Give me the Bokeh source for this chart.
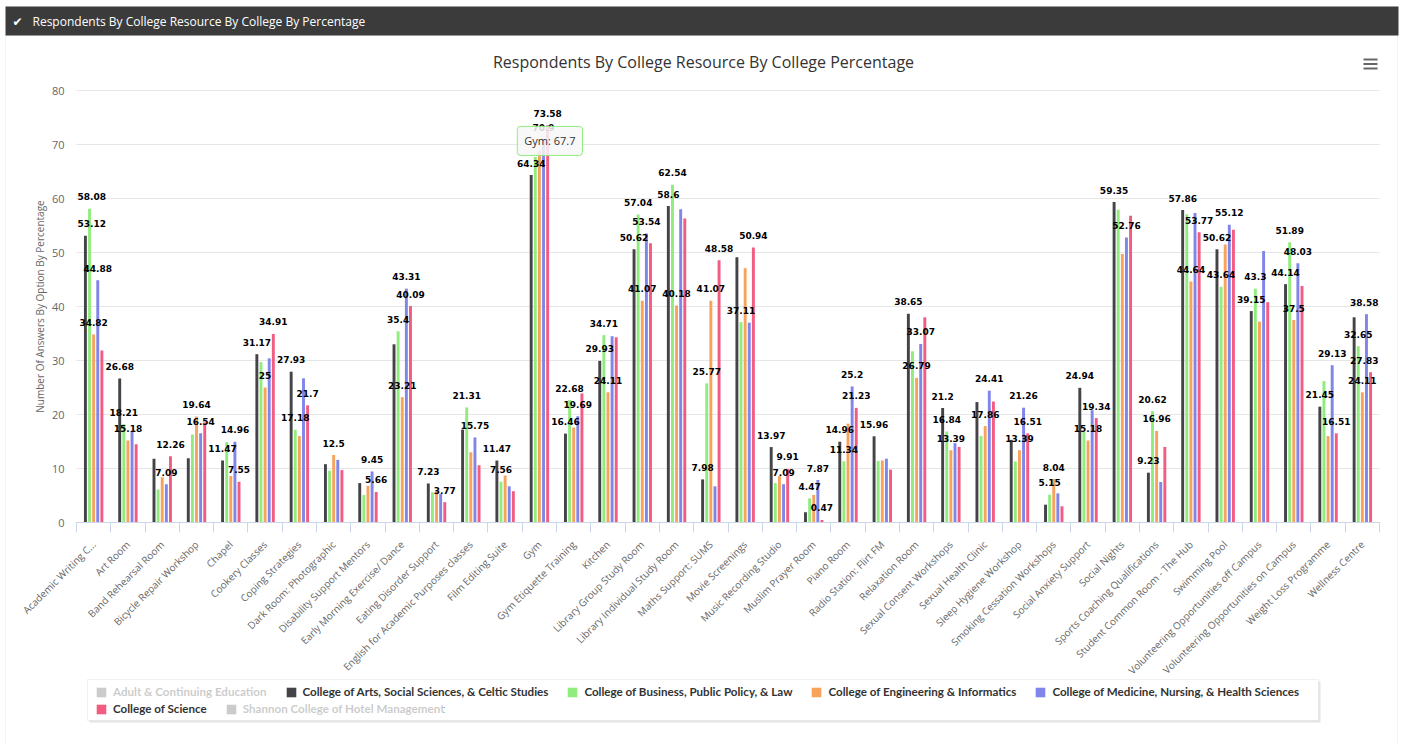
import numpy as np
from bokeh.plotting import figure
from bokeh.models import (ColumnDataSource, Range1d, FixedTicker, Legend, LegendItem,
                          Label, BoxAnnotation)
from bokeh.core.properties import value
from bokeh.embed import file_html
from bokeh.resources import INLINE

# ---------------------------------------------------------------- data
categories = [
    "Academic Writing C...", "Art Room", "Band Rehearsal Room", "Bicycle Repair Workshop",
    "Chapel", "Cookery Classes", "Coping Strategies", "Dark Room: Photographic",
    "Disability Support Mentors", "Early Morning Exercise/ Dance", "Eating Disorder Support",
    "English for Academic Purposes classes", "Film Editing Suite", "Gym",
    "Gym Etiquette Training", "Kitchen", "Library Group Study Room",
    "Library Individual Study Room", "Maths Support: SUMS", "Movie Screenings",
    "Music Recording Studio", "Muslim Prayer Room", "Piano Room", "Radio Station: Flirt FM",
    "Relaxation Room", "Sexual Consent Workshops", "Sexual Health Clinic",
    "Sleep Hygiene Workshop", "Smoking Cessation Workshops", "Social Anxiety Support",
    "Social Nights", "Sports Coaching Qualifications", "Student Common Room - The Hub",
    "Swimming Pool", "Volunteering Opportunities off Campus",
    "Volunteering Opportunities on Campus", "Weight Loss Programme", "Wellness Centre",
]

arts = [53.12, 26.68, 11.8, 11.9, 11.47, 31.17, 27.93, 10.8, 7.3, 33.0, 7.23, 17.2, 11.47,
        64.34, 16.46, 29.93, 50.62, 58.6, 7.98, 49.1, 13.97, 1.9, 14.96, 15.96, 38.65, 21.2,
        22.3, 15.3, 3.3, 24.94, 59.35, 9.23, 57.86, 50.62, 39.15, 44.14, 21.45, 38.0]
business = [58.08, 18.21, 6.1, 16.3, 14.9, 29.7, 17.18, 9.6, 5.1, 35.4, 5.6, 21.31, 7.56,
            67.7, 22.68, 34.71, 57.04, 62.54, 25.77, 37.11, 7.3, 4.47, 11.34, 11.4, 31.7,
            16.84, 16.0, 11.3, 5.15, 16.8, 57.9, 20.62, 57.1, 43.64, 43.3, 51.89, 26.2, 32.65]
engineering = [34.82, 15.18, 8.4, 19.64, 8.6, 25, 16.0, 12.5, 6.8, 23.21, 5.8, 13.0, 8.7,
               68.9, 17.6, 24.11, 41.07, 40.18, 41.07, 47.1, 8.6, 5.1, 18.3, 11.5, 26.79,
               13.39, 17.86, 13.39, 8.04, 15.18, 49.7, 16.96, 44.64, 51.5, 37.2, 37.5, 16.0,
               24.11]
medicine = [44.88, 16.9, 7.09, 16.54, 14.96, 30.4, 26.7, 11.6, 9.45, 43.31, 5.3, 15.75, 6.7,
            70.9, 19.69, 34.5, 53.54, 58.0, 6.7, 37.0, 7.09, 7.87, 25.2, 11.81, 33.07, 14.7,
            24.41, 21.26, 5.4, 20.8, 52.76, 7.5, 57.3, 55.12, 50.3, 48.03, 29.13, 38.58]
science = [31.85, 14.5, 12.26, 18.5, 7.55, 34.91, 21.7, 9.7, 5.66, 40.09, 3.77, 10.6, 5.8,
           73.58, 23.9, 34.3, 51.7, 56.3, 48.58, 50.94, 9.91, 0.47, 21.23, 9.8, 38.0, 14.0,
           22.4, 16.51, 3.0, 19.34, 56.8, 14.0, 53.77, 54.2, 40.8, 43.8, 16.51, 27.83]

# indices of the categories whose value label is printed, per college
arts_labelled = [0, 1, 4, 5, 6, 10, 12, 13, 14, 15, 16, 17, 18, 20, 22, 23, 24, 25, 29, 30,
                 31, 32, 33, 34, 35, 36]
business_labelled = [0, 1, 6, 9, 11, 12, 14, 15, 16, 17, 18, 19, 21, 22, 25, 28, 31, 33, 34,
                     35, 37]
engineering_labelled = [0, 1, 3, 5, 7, 9, 15, 16, 17, 18, 24, 25, 26, 27, 28, 29, 31, 32, 35,
                        37]
medicine_labelled = [0, 2, 3, 4, 8, 9, 11, 13, 14, 16, 20, 21, 22, 24, 26, 27, 30, 33, 35, 36,
                     37]
science_labelled = [2, 4, 5, 6, 8, 9, 10, 13, 18, 19, 20, 21, 22, 27, 29, 32, 36, 37]

series_names = [
    "College of Arts, Social Sciences, & Celtic Studies",
    "College of Business, Public Policy, & Law",
    "College of Engineering & Informatics",
    "College of Medicine, Nursing, & Health Sciences",
    "College of Science",
]
hidden_names = ["Adult & Continuing Education", "Shannon College of Hotel Management"]
tooltip_category = "Gym"
y_ticks = list(range(0, 81, 10))

# ---------------------------------------------------------------- geometry
W, H = 1404, 744
PLOT_L, PLOT_R, PLOT_T, PLOT_B = 76, 1379, 90, 522   # pixel box of the bar area
Y_MAX = 80

series_values = [arts, business, engineering, medicine, science]
series_labelled = [arts_labelled, business_labelled, engineering_labelled,
                   medicine_labelled, science_labelled]
colors = ["#434348", "#90ed7d", "#f7a35c", "#8085e9", "#f15c80"]
offsets = [-0.24, -0.12, 0.0, 0.12, 0.24]

n = len(categories)
centers = np.arange(n) + 0.5

# The frame covers the whole canvas so headers and legend are never clipped;
# the ranges are widened so that [0, n] x [0, 80] lands on the bar-area box.
px_x = (PLOT_R - PLOT_L) / n
px_y = (PLOT_B - PLOT_T) / Y_MAX
x_range = Range1d(-PLOT_L / px_x, n + (W - PLOT_R) / px_x)
y_range = Range1d(-(H - PLOT_B) / px_y, Y_MAX + PLOT_T / px_y)

p = figure(width=W, height=H, output_backend="svg", toolbar_location=None,
           x_range=x_range, y_range=y_range,
           min_border_left=0, min_border_right=0, min_border_top=0, min_border_bottom=0)
p.outline_line_color = None
p.background_fill_color = "white"
p.border_fill_color = "white"
p.xgrid.visible = False
p.ygrid.visible = False

# horizontal grid lines across the bar area
p.segment(x0=0, x1=n, y0=y_ticks, y1=y_ticks, line_color="#e6e6e6", line_width=1)

# x axis: labels under each category, ticks on category boundaries
xa = p.xaxis[0]
xa.fixed_location = 0
xa.bounds = (0, n)
xa.ticker = FixedTicker(ticks=list(centers), minor_ticks=list(range(n + 1)))
xa.major_label_overrides = {float(c): name for c, name in zip(centers, categories)}
xa.major_label_orientation = np.pi / 4
xa.major_tick_out = 0
xa.major_tick_in = 0
xa.minor_tick_out = 10
xa.minor_tick_in = 0
xa.minor_tick_line_color = "#ccd6eb"
xa.axis_line_color = "#ccd6eb"
xa.major_label_standoff = 10
xa.major_label_text_font = "Open Sans"
xa.major_label_text_font_size = "10px"
xa.major_label_text_color = "#666666"

ya = p.yaxis[0]
ya.fixed_location = 0
ya.bounds = (0, Y_MAX)
ya.ticker = FixedTicker(ticks=y_ticks)
ya.axis_line_color = None
ya.major_tick_out = 0
ya.major_tick_in = 0
ya.minor_tick_out = 0
ya.minor_tick_in = 0
ya.major_label_standoff = 12
ya.major_label_text_font = "Open Sans"
ya.major_label_text_font_size = "11px"
ya.major_label_text_color = "#666666"
ya.axis_label = "Number Of Answers By Option By Percentage"
ya.axis_label_text_font = "Open Sans"
ya.axis_label_text_font_size = "10px"
ya.axis_label_text_font_style = "normal"
ya.axis_label_text_color = "#666666"
ya.axis_label_standoff = 2

# ---------------------------------------------------------------- bars
bar_renderers = []
for vals, col, off in zip(series_values, colors, offsets):
    src = ColumnDataSource(dict(x=centers + off, top=vals))
    r = p.vbar(x="x", top="top", bottom=0, width=0.085, source=src,
               fill_color=col, line_color=None)
    bar_renderers.append(r)

# colleges switched off in the legend: no values shown
hidden_renderers = []
for _ in hidden_names:
    src = ColumnDataSource(dict(x=centers, top=[float("nan")] * n))
    r = p.vbar(x="x", top="top", bottom=0, width=0.085, source=src,
               fill_color="#333333", line_color=None)
    r.visible = False
    hidden_renderers.append(r)


def label_width(text):
    """Approximate pixel width of a bold 9px DejaVu label."""
    return sum(6.3 if ch.isdigit() else 3.4 for ch in text)


# value labels above the bars, nudged inside the plot area at the edges
for vals, off, idx in zip(series_values, offsets, series_labelled):
    xs, ys, texts, shifts = [], [], [], []
    for i in idx:
        t = f"{round(vals[i], 2):g}"
        xc = centers[i] + off
        bar_px = PLOT_L + xc * px_x
        half = label_width(t) / 2 + 1
        shift = max(0.0, PLOT_L - (bar_px - half)) - max(0.0, (bar_px + half) - PLOT_R)
        xs.append(xc)
        ys.append(vals[i])
        texts.append(t)
        shifts.append(shift)
    src = ColumnDataSource(dict(x=xs, y=ys, text=texts, dx=shifts))
    p.text(x="x", y="y", text="text", source=src, x_offset="dx", y_offset=-12,
           text_align="center", text_baseline="middle", text_font=value("DejaVu Sans"),
           text_font_style="bold", text_font_size="9px", text_color="#000000")

# hover callout on the Business bar of the Gym category
ti = categories.index(tooltip_category)
p.add_layout(Label(
    x=centers[ti] + offsets[1], y=business[ti], x_offset=-18, y_offset=16,
    text=f"{categories[ti]}: {business[ti]:g}", text_align="left", text_baseline="middle",
    text_font="Open Sans", text_font_size="11px", text_color="#333333",
    background_fill_color="#f7f7f7", background_fill_alpha=0.85,
    border_line_color=colors[1], border_line_width=1, padding=7, border_radius=3))

# ---------------------------------------------------------------- page chrome
def sbox(left, top, right, bottom, **kw):
    """Box given in canvas pixels (origin top-left)."""
    return BoxAnnotation(left=left, right=right, top=H - top, bottom=H - bottom,
                         left_units="screen", right_units="screen",
                         top_units="screen", bottom_units="screen", **kw)


def slabel(x, y, text, **kw):
    """Text placed in canvas pixels (origin top-left)."""
    return Label(x=x, y=H - y, x_units="screen", y_units="screen", text=text, **kw)


# panel border and dark header strip
p.add_layout(sbox(5, 35, 1397, H + 10, fill_color=None, line_color="#dddddd", line_width=1))
p.add_layout(sbox(5, 6, 1398, 35, fill_color="#3b3b3b", fill_alpha=1, line_color=None))
p.add_layout(slabel(12, 21, "\u2714", text_font="DejaVu Sans", text_font_size="12px",
                    text_color="white", text_baseline="middle"))
p.add_layout(slabel(32, 21, "Respondents By College Resource By College By Percentage",
                    text_font="Open Sans", text_font_size="12px", text_color="white",
                    text_baseline="middle"))

# chart title
p.add_layout(slabel(703, 61, "Respondents By College Resource By College Percentage",
                    text_font="Open Sans", text_font_size="16px", text_color="#333333",
                    text_align="center", text_baseline="middle"))

# menu icon
for yy in (58, 62.5, 67):
    p.add_layout(sbox(1363, yy, 1377, yy + 2, fill_color="#666666", fill_alpha=1,
                      line_color=None))

# legend frame with a light shadow
p.add_layout(sbox(89, 681, 1320, 722, fill_color="#e4e4e4", fill_alpha=1, line_color=None))
p.add_layout(sbox(87, 679, 1318, 720, fill_color="white", fill_alpha=1,
                  line_color="#cfcfcf", line_width=1))

legend_style = dict(orientation="horizontal", click_policy="hide", border_line_color=None,
                    background_fill_alpha=0, padding=0, margin=0, spacing=18,
                    label_standoff=6, glyph_width=12, glyph_height=12, label_height=12,
                    label_text_font="Lato", label_text_font_style="bold",
                    label_text_font_size="11.6px", label_text_color="#333333",
                    label_text_baseline="middle",
                    inactive_fill_color="white", inactive_fill_alpha=0.75)

row1 = [LegendItem(label=hidden_names[0], renderers=[hidden_renderers[0]])]
row1 += [LegendItem(label=nm, renderers=[r])
         for nm, r in zip(series_names[:4], bar_renderers[:4])]
row2 = [LegendItem(label=series_names[4], renderers=[bar_renderers[4]]),
        LegendItem(label=hidden_names[1], renderers=[hidden_renderers[1]])]

# legend locations are measured from the canvas bottom-left
p.add_layout(Legend(items=row1, location=(95, H - 698), **legend_style))
p.add_layout(Legend(items=row2, location=(95, H - 715), **legend_style))

open("out.html", "w").write(file_html(p, INLINE))
